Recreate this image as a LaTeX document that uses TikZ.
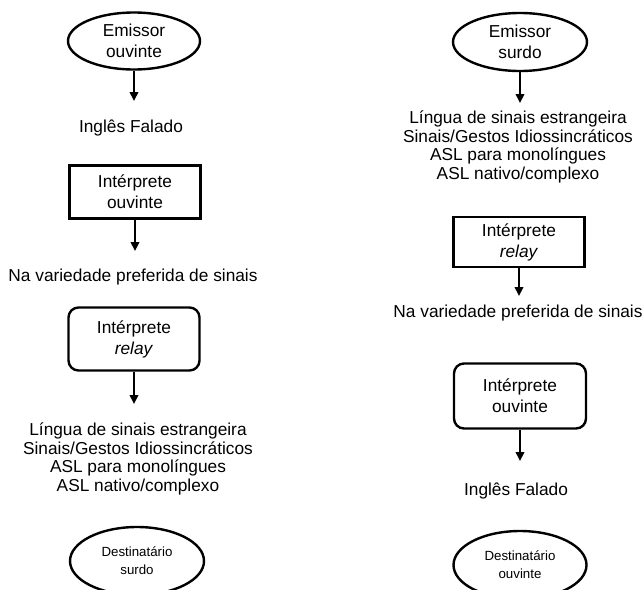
\documentclass[tikz,border=0pt]{standalone}
\usepackage{fontspec}
\setmainfont{Liberation Sans}
\usetikzlibrary{shapes.geometric,arrows.meta}
\begin{document}
\begin{tikzpicture}[x=1pt,y=-1pt,
  every node/.style={font=\fontsize{17.3}{21}\selectfont},
  oval/.style={draw,line width=2.4pt,ellipse,inner sep=0pt,align=center,
               minimum width=132pt,minimum height=57pt},
  box/.style={draw,line width=2.4pt,rectangle,inner sep=0pt,align=center,
              minimum width=131pt,minimum height=53pt},
  rbox/.style={box,rounded corners=10pt,minimum height=63pt},
  label/.style={inner sep=0pt,align=center},
  list/.style={label,font=\fontsize{17.3}{18.6}\selectfont},
  small/.style={font=\fontsize{13.3}{18}\selectfont},
  arr/.style={line width=2pt,-{Triangle[width=8.5pt,length=9pt]}}]
\useasboundingbox (0,0) rectangle (644,589);

% left column: hearing sender to deaf receiver
\node[oval] (le1) at (134,41) {Emissor\\ouvinte};
\coordinate (lt1) at (134,101);
\node[label] (ll1) at (131,128) {Inglês Falado};
\node[box] (lb1) at (135,192) {Intérprete\\ouvinte};
\coordinate (lt2) at (134,251);
\node[label] (ll2) at (133,277) {Na variedade preferida de sinais};
\node[rbox] (lb2) at (134,339) {Intérprete\\\textit{relay}};
\coordinate (lt3) at (134,404);
\node[list] (ll3) at (138,459) {Língua de sinais estrangeira\\Sinais/Gestos Idiossincráticos\\ASL para monolíngues\\ASL nativo/complexo};
\node[oval,small,minimum width=134pt,minimum height=68pt] (le2) at (137,561) {Destinatário\\surdo};

\draw[arr] (le1.south) -- (le1.south |- lt1);
\draw[arr] (lb1.south) -- (lb1.south |- lt2);
\draw[arr] (lb2.south) -- (lb2.south |- lt3);

% right column: deaf sender to hearing receiver
\node[oval,minimum width=134pt,minimum height=58pt] (re1) at (520,42) {Emissor\\surdo};
\coordinate (rt1) at (517,103);
\node[list] (rl1) at (518,147) {Língua de sinais estrangeira\\Sinais/Gestos Idiossincráticos\\ASL para monolíngues\\ASL nativo/complexo};
\node[box,minimum height=50pt] (rb1) at (519,242) {Intérprete\\\textit{relay}};
\coordinate (rt2) at (517,296);
\node[label] (rl2) at (518,313) {Na variedade preferida de sinais};
\node[rbox,minimum width=132pt,minimum height=65pt] (rb2) at (520,396) {Intérprete\\ouvinte};
\coordinate (rt3) at (517,461);
\node[label] (rl3) at (516,491) {Inglês Falado};
\node[oval,small,minimum width=133pt,minimum height=68pt] (re2) at (520,565) {Destinatário\\ouvinte};

\draw[arr] (re1.south) -- (re1.south |- rt1);
\draw[arr] (rb1.south) -- (rb1.south |- rt2);
\draw[arr] (rb2.south) -- (rb2.south |- rt3);
\end{tikzpicture}
\end{document}
